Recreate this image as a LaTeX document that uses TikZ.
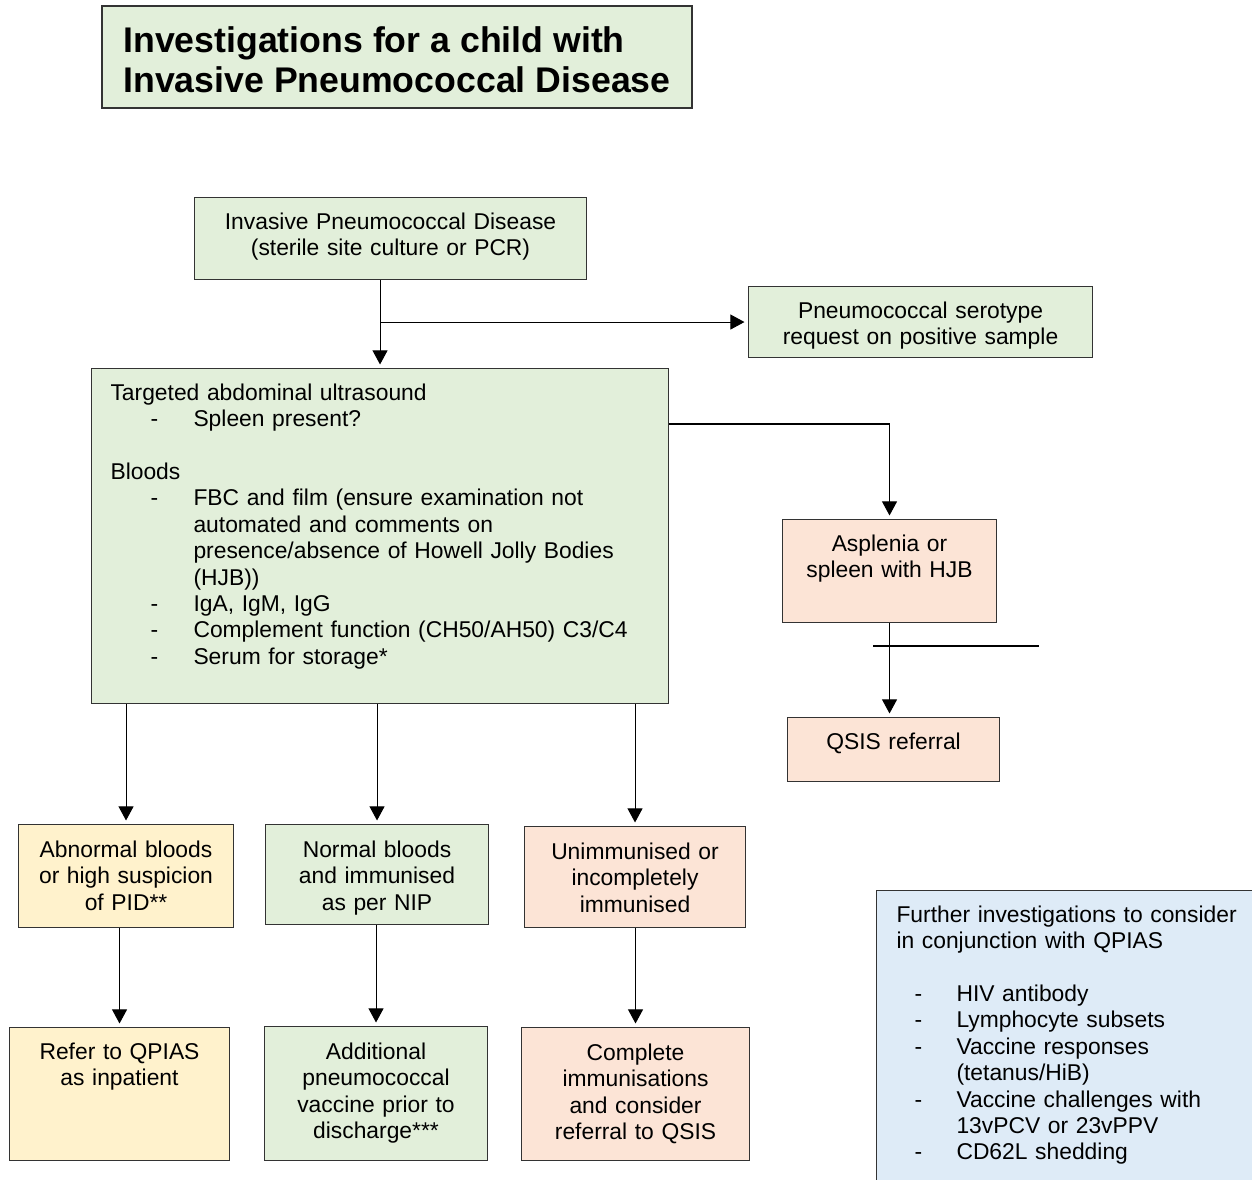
\documentclass[tikz,border=0pt]{standalone}
\usepackage{fontspec}
\setmainfont{Liberation Sans}
\usetikzlibrary{arrows.meta}

\newlength{\pxl}
\setlength{\pxl}{0.02cm}
\definecolor{boxgreen}{HTML}{E2EFDA}
\definecolor{boxpeach}{HTML}{FCE4D6}
\definecolor{boxyellow}{HTML}{FFF2CC}
\definecolor{boxblue}{HTML}{DEEBF7}
\newcommand{\dashitem}[3]{\hspace*{#1\pxl}\makebox[#2\pxl][l]{-}#3}

\begin{document}
\begin{tikzpicture}[x=0.02cm, y=-0.02cm,
  box/.style={draw=black!80, line width=0.6pt, inner sep=0pt, anchor=north west, align=center, font=\fontsize{13}{15}\selectfont},
  arrow/.style={draw=black, line width=0.6pt, -{Triangle[length=8pt,width=8.5pt]}, shorten >=2pt}]
\useasboundingbox (0,0) rectangle (1252,1180);
\clip (0,0) rectangle (1252,1180);
% Nodes
\node[box, fill=boxgreen, line width=1.1pt, align=left, inner xsep=20\pxl, minimum width=590\pxl, text height=87\pxl, text depth=15\pxl, font=\fontsize{20.3}{23.3}\selectfont\bfseries] (title) at (101,5) {Investigations for a child with\\Invasive Pneumococcal Disease};
\node[box, fill=boxgreen, text width=392\pxl, text height=32\pxl, text depth=50\pxl] (ipd) at (194,197) {Invasive Pneumococcal Disease\\(sterile site culture or PCR)};
\node[box, fill=boxgreen, text width=344\pxl, text height=32\pxl, text depth=39\pxl] (serotype) at (748,286) {Pneumococcal serotype\\request on positive sample};
\node[box, fill=boxgreen, align=left, inner xsep=19\pxl, text width=539\pxl, text height=32\pxl, text depth=303\pxl] (ultrasound) at (91,368) {Targeted abdominal ultrasound\\
\dashitem{40}{43}{Spleen present?}\\[15pt]
Bloods\\
\dashitem{40}{43}{FBC and film (ensure examination not}\\
\hspace*{83\pxl}automated and comments on\\
\hspace*{83\pxl}presence/absence of Howell Jolly Bodies\\
\hspace*{83\pxl}(HJB))\\
\dashitem{40}{43}{IgA, IgM, IgG}\\
\dashitem{40}{43}{Complement function (CH50/AH50) C3/C4}\\
\dashitem{40}{43}{Serum for storage*}};
\node[box, fill=boxpeach, text width=214\pxl, text height=32\pxl, text depth=71\pxl] (asplenia) at (782,519) {Asplenia or\\spleen with HJB};
\node[box, fill=boxpeach, text width=212\pxl, text height=32\pxl, text depth=32\pxl] (qsis) at (787,717) {QSIS referral};
\node[box, fill=boxyellow, text width=215\pxl, text height=33\pxl, text depth=70\pxl] (abnormal) at (18,824) {Abnormal bloods\\or high suspicion\\of PID**};
\node[box, fill=boxgreen, text width=223\pxl, text height=33\pxl, text depth=67\pxl] (normal) at (265,824) {Normal bloods\\and immunised\\as per NIP};
\node[box, fill=boxpeach, text width=221\pxl, text height=33\pxl, text depth=68\pxl] (unimmunised) at (524,826) {Unimmunised or\\incompletely\\immunised};
\node[box, fill=boxyellow, text width=220\pxl, text height=32\pxl, text depth=101\pxl] (refer) at (9,1027) {Refer to QPIAS\\as inpatient};
\node[box, fill=boxgreen, text width=223\pxl, text height=33\pxl, text depth=101\pxl] (vaccine) at (264,1026) {Additional\\pneumococcal\\vaccine prior to\\discharge***};
\node[box, fill=boxpeach, text width=228\pxl, text height=33\pxl, text depth=100\pxl] (complete) at (521,1027) {Complete\\immunisations\\and consider\\referral to QSIS};
\node[box, fill=boxblue, align=left, inner xsep=20\pxl, text width=380\pxl, text height=32\pxl, text depth=290\pxl] (further) at (876,890) {Further investigations to consider\\
in conjunction with QPIAS\\[15pt]
\dashitem{18}{42}{HIV antibody}\\
\dashitem{18}{42}{Lymphocyte subsets}\\
\dashitem{18}{42}{Vaccine responses}\\
\hspace*{60\pxl}(tetanus/HiB)\\
\dashitem{18}{42}{Vaccine challenges with}\\
\hspace*{60\pxl}13vPCV or 23vPPV\\
\dashitem{18}{42}{CD62L shedding}};
\coordinate (stray a) at (873,646);
\coordinate (stray b) at (1039,646);
% Connectors
\draw[arrow] (ipd.south -| ultrasound.north) -- (ultrasound.north);
\draw[arrow] (serotype.west -| ultrasound.north) -- (serotype.west);
\draw[arrow] ([yshift=-56\pxl]ultrasound.north east) -| (asplenia.north);
\draw[arrow] (asplenia.south) -- (asplenia.south |- qsis.north);
\draw[draw=black, line width=0.6pt] (stray a) -- (stray b);
\draw[arrow] (abnormal.north |- ultrasound.south) -- (abnormal.north);
\draw[arrow] (normal.north |- ultrasound.south) -- (normal.north);
\draw[arrow] (unimmunised.north |- ultrasound.south) -- (unimmunised.north);
\draw[arrow] (refer.north |- abnormal.south) -- (refer.north);
\draw[arrow] (vaccine.north |- normal.south) -- (vaccine.north);
\draw[arrow] (complete.north |- unimmunised.south) -- (complete.north);
\end{tikzpicture}
\end{document}
